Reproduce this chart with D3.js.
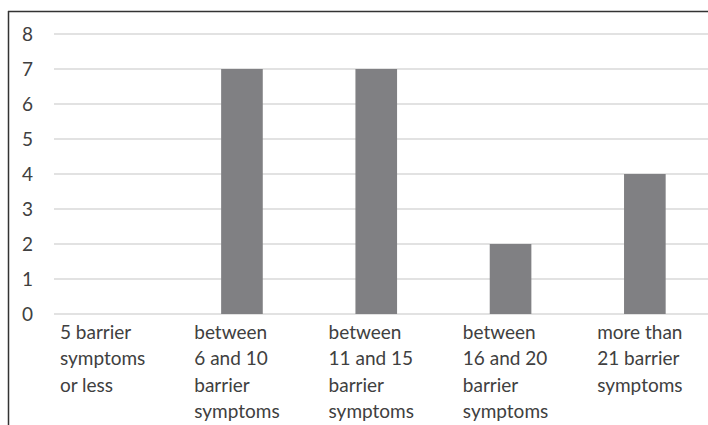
<!DOCTYPE html>
<html>
<head>
<meta charset="utf-8">
<script src="https://cdn.jsdelivr.net/npm/d3@7"></script>
<style>
  body { margin: 0; background: #fff; }
  text { font-family: Lato, "Open Sans", sans-serif; fill: #404040; }
</style>
</head>
<body>
<div id="chart"></div>
<script>
const categories = [
  ["5 barrier", "symptoms", "or less"],
  ["between", "6 and 10", "barrier", "symptoms"],
  ["between", "11 and 15", "barrier", "symptoms"],
  ["between", "16 and 20", "barrier", "symptoms"],
  ["more than", "21 barrier", "symptoms"]
]
const counts = [0, 7, 7, 2, 4]
const yTicks = [0, 1, 2, 3, 4, 5, 6, 7, 8]

const width = 708, height = 425

const svg = d3.select("#chart").append("svg")
    .attr("width", width)
    .attr("height", height)

// frame of the cropped figure
svg.append("line")
    .attr("x1", 8).attr("x2", width)
    .attr("y1", 11.5).attr("y2", 11.5)
    .attr("stroke", "#333").attr("stroke-width", 1.5)
svg.append("line")
    .attr("x1", 8.5).attr("x2", 8.5)
    .attr("y1", 11).attr("y2", height)
    .attr("stroke", "#333").attr("stroke-width", 1.5)

const xScale = d3.scaleBand()
    .domain(d3.range(categories.length))
    .range([40.5, 712])
    .paddingInner(0.69)
    .paddingOuter(0.345)

const yScale = d3.scaleLinear()
    .domain([0, 8])
    .range([314, 34])

// gridlines
svg.append("g")
  .selectAll("line")
  .data(yTicks)
  .join("line")
    .attr("x1", 54).attr("x2", width)
    .attr("y1", d => yScale(d)).attr("y2", d => yScale(d))
    .attr("stroke", "#d9d9d9")
    .attr("stroke-width", 1.5)

// y labels
svg.append("g")
  .selectAll("text")
  .data(yTicks)
  .join("text")
    .attr("x", 22)
    .attr("y", d => yScale(d) + 6.5)
    .attr("font-size", 19)
    .text(d => d)

// bars
svg.append("g")
  .selectAll("rect")
  .data(counts)
  .join("rect")
    .attr("x", (d, i) => xScale(i))
    .attr("y", d => yScale(d))
    .attr("width", xScale.bandwidth())
    .attr("height", d => yScale(0) - yScale(d))
    .attr("fill", "#808083")

// category labels, lines left aligned, block centred under band
const labels = svg.append("g")
  .selectAll("text")
  .data(categories)
  .join("text")
    .attr("font-size", 19)

labels.each(function(lines, i) {
  const t = d3.select(this)
  lines.forEach((s, k) => {
    t.append("tspan").attr("x", 0).attr("y", 339 + k * 26.3).text(s)
  })
  const w = this.getBBox().width
  const cx = xScale(i) + xScale.bandwidth() / 2
  t.attr("transform", `translate(${cx - w / 2 - 5},0)`)
})
</script>
</body>
</html>
